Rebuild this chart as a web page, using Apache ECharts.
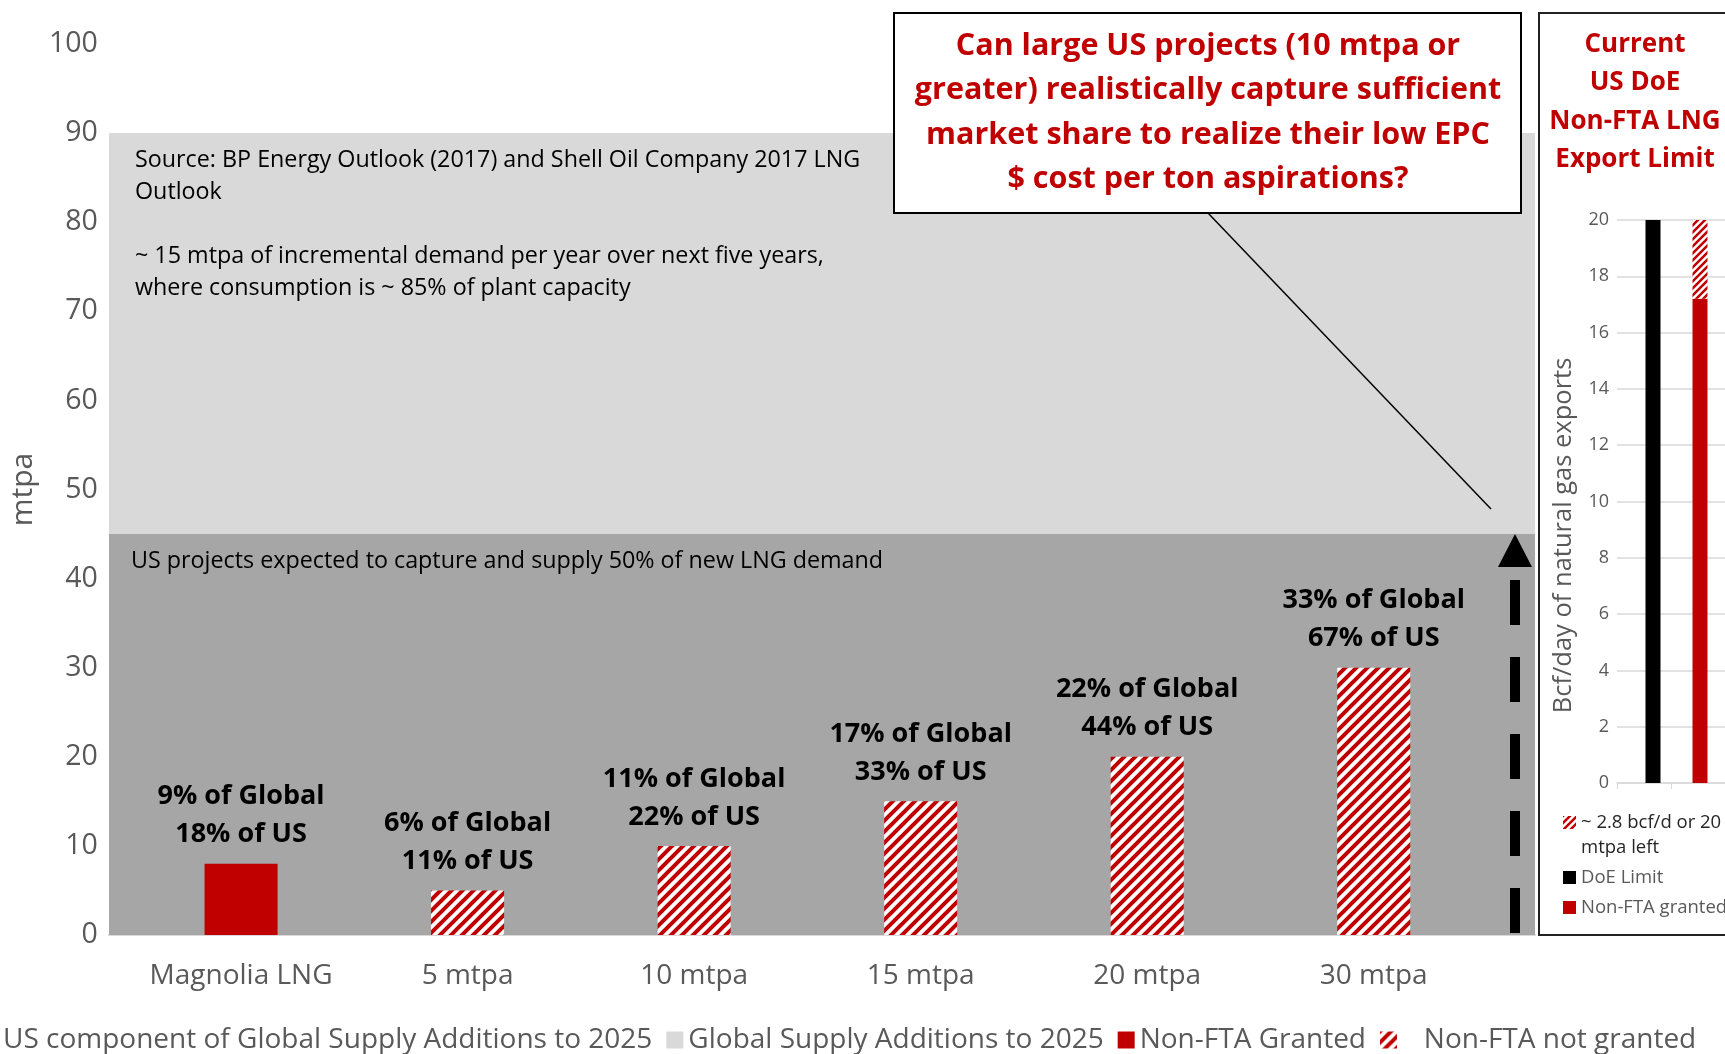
<!DOCTYPE html>
<html><head><meta charset="utf-8">
<script src="https://cdn.jsdelivr.net/npm/echarts@6/dist/echarts.min.js"></script>
<style>html,body{margin:0;padding:0;background:#fff;}#c{width:1725px;height:1054px;}</style>
</head><body><div id="c"></div>
<script>
// ---- data ----
const categories = ['Magnolia LNG', '5 mtpa', '10 mtpa', '15 mtpa', '20 mtpa', '30 mtpa'];
const grantedValues = [8, null, null, null, null, null];
const notGrantedValues = [null, 5, 10, 15, 20, 30];
const globalShare = ['9%', '6%', '11%', '17%', '22%', '33%'];
const usShare = ['18%', '11%', '22%', '33%', '44%', '67%'];
const usComponent = [45];
const globalSupplyExtra = [45]; // stacked on top of US component -> 90
const mainYMin = 0, mainYMax = 100, mainYStep = 10;
const sideCategories = ['DoE Limit', 'Non-FTA granted'];
const sideDoeLimit = [20, null];
const sideGranted = [null, 17.2];
const sideLeft = [null, 2.8];
const sideYMin = 0, sideYMax = 20, sideYStep = 2;
const LEFT_NAME = '~ 2.8 bcf/d or 20\nmtpa left';
const calloutText = 'Can large US projects (10 mtpa or\ngreater) realistically capture sufficient\nmarket share to realize their low EPC\n$ cost per ton aspirations?';
const sideTitle = 'Current\nUS DoE\nNon-FTA LNG\nExport Limit';
const noteGlobal = 'Source: BP Energy Outlook (2017) and Shell Oil Company 2017 LNG\nOutlook\n\n~ 15 mtpa of incremental demand per year over next five years,\nwhere consumption is ~ 85% of plant capacity';
const noteUS = 'US projects expected to capture and supply 50% of new LNG demand';

const FONT = '"Open Sans", "Noto Sans", sans-serif';
const RED = '#C00000';

function makeHatch(size, lw) {
  const c = document.createElement('canvas');
  c.width = c.height = size;
  const ctx = c.getContext('2d');
  ctx.fillStyle = '#ffffff';
  ctx.fillRect(0, 0, size, size);
  ctx.strokeStyle = RED;
  ctx.lineWidth = lw;
  ctx.beginPath();
  ctx.moveTo(-1, size + 1); ctx.lineTo(size + 1, -1);
  ctx.moveTo(-size / 2 - 1, size / 2 + 1); ctx.lineTo(size / 2 + 1, -size / 2 - 1);
  ctx.moveTo(size / 2 - 1, size * 1.5 + 1); ctx.lineTo(size * 1.5 + 1, size / 2 - 1);
  ctx.stroke();
  return c;
}
const hatchMain = { image: makeHatch(11, 4), repeat: 'repeat' };
const hatchSide = { image: makeHatch(7, 2.5), repeat: 'repeat' };

const chart = echarts.init(document.getElementById('c'), null, { renderer: 'canvas' });

function barLabel(p) {
  if (p.value == null) return '';
  return globalShare[p.dataIndex] + ' of Global\n' + usShare[p.dataIndex] + ' of US';
}
const labelCfg = {
  show: true, position: 'top', distance: 10, formatter: barLabel,
  fontFamily: FONT, fontWeight: 'bold', fontSize: 27, lineHeight: 38, color: '#000'
};

const option = {
  animation: false,
  backgroundColor: '#fff',
  grid: [
    { left: 127.7, right: 238, top: 44, bottom: 119 },   // 0 main bars
    { left: 109, right: 190, top: 44, bottom: 119 },     // 1 background bands
    { left: 1629.5, width: 94, top: 220, bottom: 271 },  // 2 side bars
    { left: 1617, width: 117, top: 220, bottom: 271 }    // 3 side frame (axis, gridlines)
  ],
  xAxis: [
    { type: 'category', gridIndex: 0, data: categories,
      axisLine: { show: false }, axisTick: { show: false },
      axisLabel: { interval: 0, fontFamily: FONT, fontSize: 28, color: '#595959', margin: 27 } },
    { type: 'category', gridIndex: 1, data: ['band'],
      axisLine: { show: true, lineStyle: { color: '#D9D9D9', width: 2 } },
      axisTick: { show: false }, axisLabel: { show: false } },
    { type: 'category', gridIndex: 2, data: sideCategories, show: false },
    { type: 'category', gridIndex: 3, data: ['', ''],
      axisLine: { show: true, lineStyle: { color: '#D9D9D9', width: 1.5 } },
      axisTick: { show: true, length: 6, lineStyle: { color: '#D9D9D9' } },
      axisLabel: { show: false } }
  ],
  yAxis: [
    { type: 'value', gridIndex: 0, min: mainYMin, max: mainYMax, interval: mainYStep,
      name: 'mtpa', nameLocation: 'middle', nameGap: 86,
      nameTextStyle: { fontFamily: FONT, fontSize: 30, color: '#595959' },
      axisLine: { show: false }, axisTick: { show: false }, splitLine: { show: false },
      axisLabel: { fontFamily: FONT, fontSize: 28.5, color: '#595959', margin: 30 } },
    { type: 'value', gridIndex: 1, min: mainYMin, max: mainYMax, interval: mainYStep, show: false, splitLine: { show: false } },
    { type: 'value', gridIndex: 2, min: sideYMin, max: sideYMax, interval: sideYStep, show: false, splitLine: { show: false } },
    { type: 'value', gridIndex: 3, min: sideYMin, max: sideYMax, interval: sideYStep,
      name: 'Bcf/day of natural gas exports', nameLocation: 'middle', nameGap: 40,
      nameTextStyle: { fontFamily: FONT, fontSize: 25.5, color: '#595959', padding: [0, 68, 0, 0] },
      axisLine: { show: false }, axisTick: { show: false },
      splitLine: { show: true, lineStyle: { color: '#D9D9D9', width: 1.5 } },
      axisLabel: { fontFamily: FONT, fontSize: 18, color: '#595959', margin: 8 } }
  ],
  legend: [
    { orient: 'horizontal', left: -24, top: 1021, itemWidth: 17, itemHeight: 17, itemGap: 14,
      icon: 'rect', textStyle: { fontFamily: FONT, fontSize: 28, color: '#595959' },
      formatter: function (n) { return n === 'Non-FTA not granted' ? '   ' + n : n; },
      data: ['US component of Global Supply Additions to 2025', 'Global Supply Additions to 2025', 'Non-FTA Granted', 'Non-FTA not granted'] },
    { orient: 'vertical', left: 1558, top: 780, itemWidth: 13, itemHeight: 13, itemGap: 5,
      icon: 'rect', textStyle: { fontFamily: FONT, fontSize: 18.5, color: '#595959', lineHeight: 25 },
      formatter: function (n) { return n === LEFT_NAME ? '\n' + n : n; },
      data: [
        { name: LEFT_NAME, textStyle: { color: '#262626' } },
        'DoE Limit', 'Non-FTA granted'] }
  ],
  series: [
    { name: 'US component of Global Supply Additions to 2025', type: 'bar', xAxisIndex: 1, yAxisIndex: 1,
      stack: 'band', data: usComponent, barWidth: '100%', barCategoryGap: 0, z: 1,
      itemStyle: { color: '#A6A6A6' }, silent: true },
    { name: 'Global Supply Additions to 2025', type: 'bar', xAxisIndex: 1, yAxisIndex: 1,
      stack: 'band', data: globalSupplyExtra, barWidth: '100%', z: 1,
      itemStyle: { color: '#D9D9D9' }, silent: true },
    { name: 'Non-FTA Granted', type: 'bar', xAxisIndex: 0, yAxisIndex: 0, stack: 'main',
      data: grantedValues, barWidth: 73, z: 3, itemStyle: { color: RED }, label: labelCfg },
    { name: 'Non-FTA not granted', type: 'bar', xAxisIndex: 0, yAxisIndex: 0, stack: 'main',
      data: notGrantedValues, barWidth: 73, z: 3, itemStyle: { color: hatchMain }, label: labelCfg },
    { name: 'Non-FTA granted', type: 'bar', xAxisIndex: 2, yAxisIndex: 2, stack: 'side',
      data: sideGranted, barWidth: 15, itemStyle: { color: RED } },
    { name: LEFT_NAME, type: 'bar', xAxisIndex: 2, yAxisIndex: 2, stack: 'side',
      data: sideLeft, barWidth: 15, itemStyle: { color: hatchSide } },
    { name: 'DoE Limit', type: 'bar', xAxisIndex: 2, yAxisIndex: 2, stack: 'side',
      data: sideDoeLimit, barWidth: 15, itemStyle: { color: '#000' } }
  ]
};
chart.setOption(option);

// annotations (vertical positions derived from the value axis)
const y0 = chart.convertToPixel({ yAxisIndex: 1 }, 0);
const yUS = chart.convertToPixel({ yAxisIndex: 1 }, usComponent[0]);
const arrowX = 1515;
chart.setOption({
  graphic: [
    { type: 'text', z: 100, x: 135, y: 144,
      style: { text: noteGlobal, fill: '#000', fontFamily: FONT, fontSize: 23.3, lineHeight: 32, align: 'left', verticalAlign: 'top' } },
    { type: 'text', z: 100, x: 131, y: yUS + 11,
      style: { text: noteUS, fill: '#000', fontFamily: FONT, fontSize: 23.3, lineHeight: 32, align: 'left', verticalAlign: 'top' } },
    { type: 'line', z: 100, shape: { x1: 1208, y1: 213, x2: 1491, y2: yUS - 25 },
      style: { stroke: '#000', lineWidth: 1.5 } },
    { type: 'rect', z: 101, shape: { x: 894, y: 13, width: 627, height: 200 },
      style: { fill: '#fff', stroke: '#000', lineWidth: 2 } },
    { type: 'text', z: 102, x: 1208, y: 24,
      style: { text: calloutText, fill: RED, fontFamily: FONT, fontWeight: 'bold', fontSize: 30.5, lineHeight: 44.5, align: 'center', verticalAlign: 'top' } },
    { type: 'line', z: 100, shape: { x1: arrowX, y1: y0 - 2, x2: arrowX, y2: yUS + 34 },
      style: { stroke: '#000', lineWidth: 10, lineDash: [45, 32] } },
    { type: 'polygon', z: 100, shape: { points: [[arrowX, yUS], [arrowX - 17, yUS + 33], [arrowX + 17, yUS + 33]] },
      style: { fill: '#000' } },
    { type: 'rect', z: 100, shape: { x: 1539, y: 13, width: 220, height: 922 },
      style: { fill: 'none', stroke: '#222', lineWidth: 2 } },
    { type: 'text', z: 100, x: 1635, y: 25,
      style: { text: sideTitle, fill: RED, fontFamily: FONT, fontWeight: 'bold', fontSize: 26, lineHeight: 38.5, align: 'center', verticalAlign: 'top' } }
  ]
});
</script>
</body></html>
